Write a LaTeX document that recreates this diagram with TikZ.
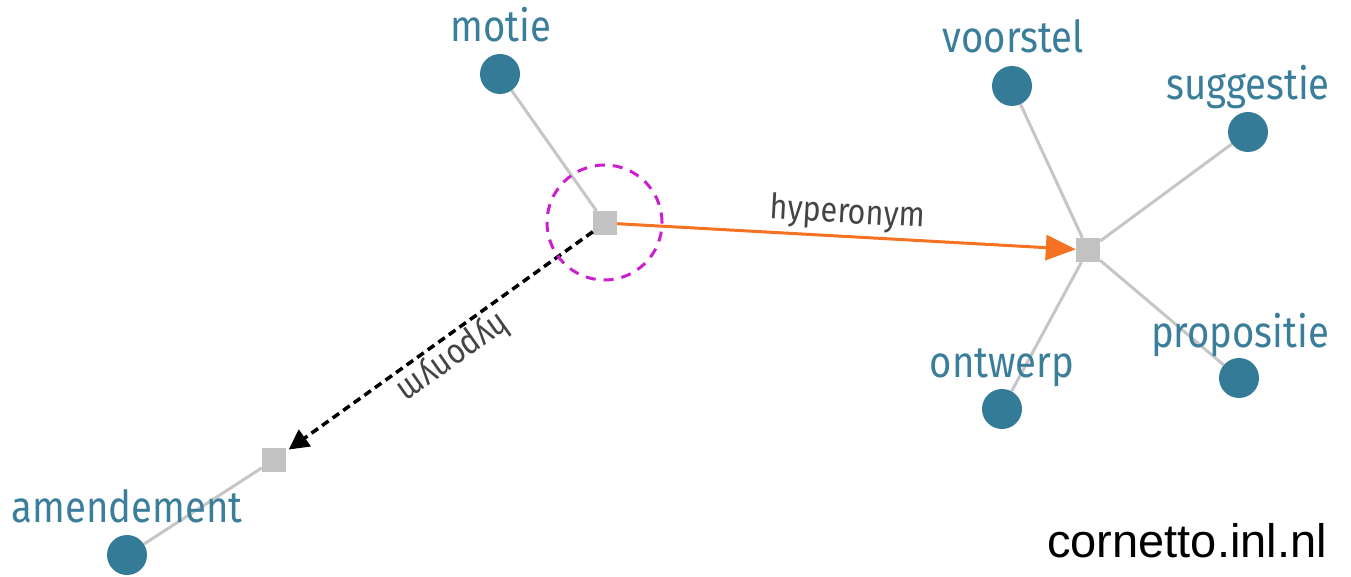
\documentclass[tikz,border=0pt]{standalone}
\usepackage{fontspec}
\setmainfont{Liberation Sans}
\newfontfamily\labfont[FakeStretch=0.87]{Fira Sans}
\usetikzlibrary{arrows.meta,backgrounds}
\definecolor{nodeblue}{HTML}{347B98}
\definecolor{labblue}{HTML}{3A7E9B}
\definecolor{edgegray}{HTML}{C6C6C6}
\definecolor{sqgray}{HTML}{C2C2C2}
\definecolor{relorange}{HTML}{F47221}
\definecolor{hlmag}{HTML}{CC1ECC}
\definecolor{rellab}{HTML}{444444}
\begin{document}
\begin{tikzpicture}[x=1pt,y=-1pt,
  word/.style={circle, fill=nodeblue, minimum size=40pt, inner sep=0pt},
  syn/.style={rectangle, fill=sqgray, minimum size=24pt, inner sep=0pt},
  wlab/.style={text=labblue, font=\labfont\fontsize{44}{44}\selectfont, anchor=base, inner sep=0pt},
  rlab/.style={text=rellab, font=\labfont\fontsize{35}{35}\selectfont, anchor=base, inner sep=0pt},
  link/.style={draw=edgegray, line width=3pt},
]
\useasboundingbox (0,0) rectangle (1351,577);
% synsets
\node[syn] (s1) at (605,223) {};
\node[syn] (s2) at (1088,250) {};
\node[syn] (s3) at (274,460) {};
% words
\node[word] (motie) at (500,74) {};
\node[word] (voorstel) at (1012,86) {};
\node[word] (suggestie) at (1248,132) {};
\node[word] (propositie) at (1239,378) {};
\node[word] (ontwerp) at (1002,409) {};
\node[word] (amendement) at (127,555) {};
\begin{scope}[on background layer]
  \draw[link] (motie) -- (s1);
  \draw[link] (voorstel) -- (s2);
  \draw[link] (suggestie) -- (s2);
  \draw[link] (propositie) -- (s2);
  \draw[link] (ontwerp) -- (s2);
  \draw[link] (amendement) -- (s3);
\end{scope}
% relations
\draw[draw=relorange, line width=3pt, -{Triangle[length=30pt,width=25pt]}] (s1) -- (s2);
\draw[line width=3.5pt, dash pattern=on 8pt off 5pt, shorten >=3pt, -{Triangle[length=20pt,width=20pt]}] (s1) -- (s3);
% highlight
\node[circle, draw=hlmag, line width=3pt, dash pattern=on 10pt off 8pt, minimum size=115pt, inner sep=0pt] (hl) at (604.5,222.5) {};
% labels
\node[wlab] (lmotie) at (501,42) {motie};
\node[wlab] (lvoorstel) at (1013,53) {voorstel};
\node[wlab] (lsuggestie) at (1248,100) {suggestie};
\node[wlab] (lpropositie) at (1240,347) {propositie};
\node[wlab] (lontwerp) at (1002,377) {ontwerp};
\node[wlab] (lamendement) at (127,522) {amendement};
\node[rlab, rotate=-3.2] (lhyper) at (847,223) {hyperonym};
\node[rlab, anchor=center, rotate=215.3] (lhypo) at (453,357) {hyponym};
\node[font=\fontsize{47}{47}\selectfont, anchor=base east, inner sep=0pt] (site) at (1327,557) {cornetto.inl.nl};
\end{tikzpicture}
\end{document}
